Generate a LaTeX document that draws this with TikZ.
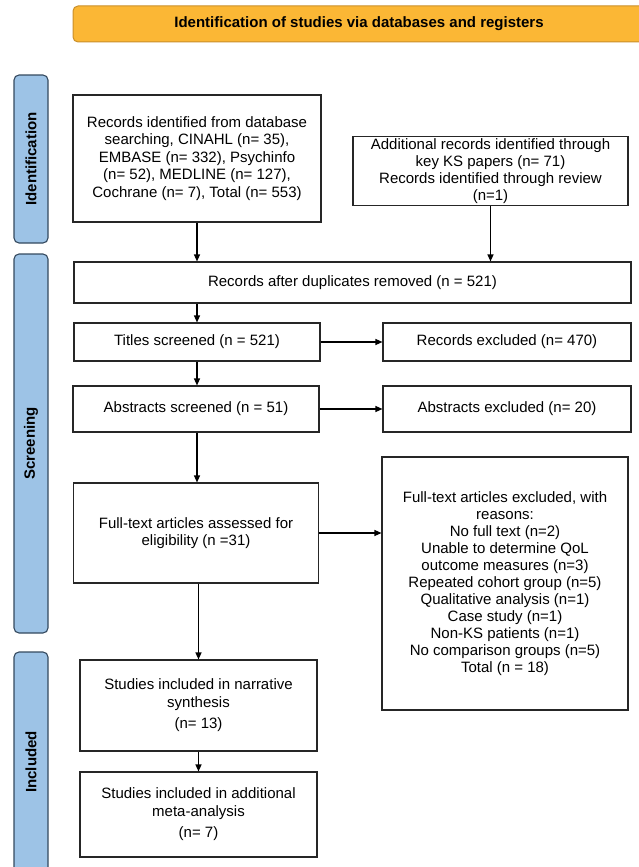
\documentclass[tikz,border=0pt]{standalone}
\usepackage{fontspec}
\setmainfont{Liberation Sans}
\usetikzlibrary{arrows.meta, positioning}
\definecolor{bannerfill}{HTML}{FBB735}
\definecolor{bannerline}{HTML}{C98F2A}
\definecolor{phasefill}{HTML}{9DC3E6}
\definecolor{phaseline}{HTML}{34495E}

\begin{document}
\begin{tikzpicture}[
  x=1pt, y=-1pt,
  font=\fontsize{15}{17.5}\selectfont,
  record/.style={rectangle, draw=black!85, line width=1.1pt, fill=white, align=center, inner sep=2pt},
  phase/.style={rectangle, rounded corners=5pt, draw=phaseline, fill=phasefill, line width=1.1pt,
    rotate=90, minimum height=34pt, font=\fontsize{15}{17}\selectfont\bfseries},
  banner/.style={rectangle, rounded corners=5pt, draw=bannerline, fill=bannerfill, line width=1pt,
    minimum width=572pt, minimum height=36pt, font=\fontsize{15}{17}\selectfont\bfseries},
  flow/.style={-{Triangle[length=7pt, width=6pt]}, line width=1.2pt}
]
\useasboundingbox (0,0) rectangle (639,867);

% Nodes
\node[banner] (head) at (359,24) {Identification of studies via databases and registers};

\node[phase, minimum width=168pt] (ident) at (31,159) {Identification};
\node[phase, minimum width=379pt] (screen) at (31,443.5) {Screening};
\node[phase, minimum width=220pt] (incl) at (31,762) {Included};

\node[record, minimum width=248pt, minimum height=127pt] (dbase) at (197,158.5)
  {Records identified from database\\searching, CINAHL (n= 35),\\EMBASE (n= 332), Psychinfo\\(n= 52), MEDLINE (n= 127),\\Cochrane (n= 7), Total (n= 553)};
\node[record, minimum width=275pt, minimum height=56pt, font=\fontsize{15}{17}\selectfont] (extra) at (490.5,171)
  {Additional records identified through\\key KS papers (n= 71)\\Records identified through review\\(n=1)};
\node[record, minimum width=557pt, minimum height=41pt] (dupes) at (352.5,282.5)
  {Records after duplicates removed (n = 521)};
\node[record, minimum width=246pt, minimum height=38pt] (titles) at (197,342)
  {Titles screened (n = 521)};
\node[record, minimum width=248pt, minimum height=38pt] (recex) at (507,342)
  {Records excluded (n= 470)};
\node[record, minimum width=246pt, minimum height=46pt] (abstr) at (196,409)
  {Abstracts screened (n = 51)};
\node[record, minimum width=248pt, minimum height=46pt] (absex) at (507,409)
  {Abstracts excluded (n= 20)};
\node[record, minimum width=245pt, minimum height=100pt] (fullt) at (196,533)
  {Full-text articles assessed for\\eligibility (n =31)};
\node[record, minimum width=246pt, minimum height=253pt, font=\fontsize{15}{17}\selectfont] (fullex) at (505,583.5)
  {Full-text articles excluded, with\\reasons:\\No full text (n=2)\\Unable to determine QoL\\outcome measures (n=3)\\Repeated cohort group (n=5)\\Qualitative analysis (n=1)\\Case study (n=1)\\Non-KS patients (n=1)\\No comparison groups (n=5)\\Total (n = 18)};
\node[record, minimum width=237pt, minimum height=91pt] (narr) at (198.5,705.5)
  {Studies included in narrative\\synthesis\\[4pt](n= 13)};
\node[record, minimum width=237pt, minimum height=85pt] (meta) at (198.5,814.5)
  {Studies included in additional\\meta-analysis\\[4pt](n= 7)};

% Arrows
\draw[flow] (dbase.south) -- (dbase.south |- dupes.north);
\draw[flow] (extra.south) -- (extra.south |- dupes.north);
\draw[flow] (titles.north |- dupes.south) -- (titles.north);
\draw[flow] (titles.south) -- (titles.south |- abstr.north);
\draw[flow] (titles.south |- abstr.south) -- (titles.south |- fullt.north);
\draw[flow] (titles.east) -- (recex.west);
\draw[flow] (abstr.east) -- (absex.west);
\draw[flow] (fullt.east) -- (fullex.west |- fullt.east);
\draw[flow] (narr.north |- fullt.south) -- (narr.north);
\draw[flow] (narr.south) -- (meta.north);

\end{tikzpicture}
\end{document}
